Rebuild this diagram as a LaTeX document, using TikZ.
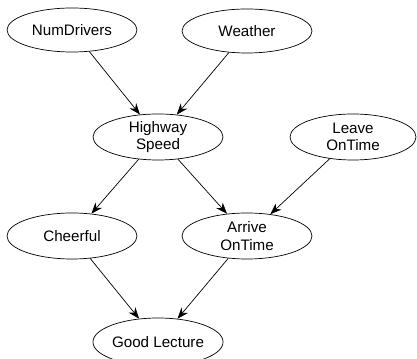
\documentclass[tikz,border=0pt]{standalone}
\usepackage{fontspec}
\setmainfont{Liberation Sans}
\usetikzlibrary{arrows.meta,shapes.geometric}

\begin{document}
\begin{tikzpicture}[
  every node/.style={font=\fontsize{10.8}{12.4}\selectfont},
  var/.style={draw,ellipse,line width=0.5pt,inner sep=0pt,
              minimum width=3.25cm,minimum height=1.15cm,align=center},
  edge/.style={-{Stealth[length=8pt,width=6pt]},line width=0.5pt}
]
  \useasboundingbox (0,0) rectangle (10.425,8.95);
  \node[var,minimum height=1.1cm] (numdrivers) at (1.8,8.2) {NumDrivers};
  \node[var,minimum height=1.1cm] (weather) at (6.175,8.175) {Weather};
  \node[var] (highway) at (3.95,5.525) {Highway\\Speed};
  \node[var,minimum width=3.15cm] (leave) at (8.825,5.525) {Leave\\OnTime};
  \node[var] (cheerful) at (1.8,3.05) {Cheerful};
  \node[var] (arrive) at (6.175,3.05) {Arrive\\OnTime};
  \node[var,minimum height=1.2cm] (lecture) at (3.95,0.4) {Good Lecture};

  \draw[edge] (numdrivers) -- (highway);
  \draw[edge] (weather) -- (highway);
  \draw[edge] (highway) -- (cheerful);
  \draw[edge] (highway) -- (arrive);
  \draw[edge] (leave) -- (arrive);
  \draw[edge] (cheerful) -- (lecture);
  \draw[edge] (arrive) -- (lecture);
\end{tikzpicture}
\end{document}
